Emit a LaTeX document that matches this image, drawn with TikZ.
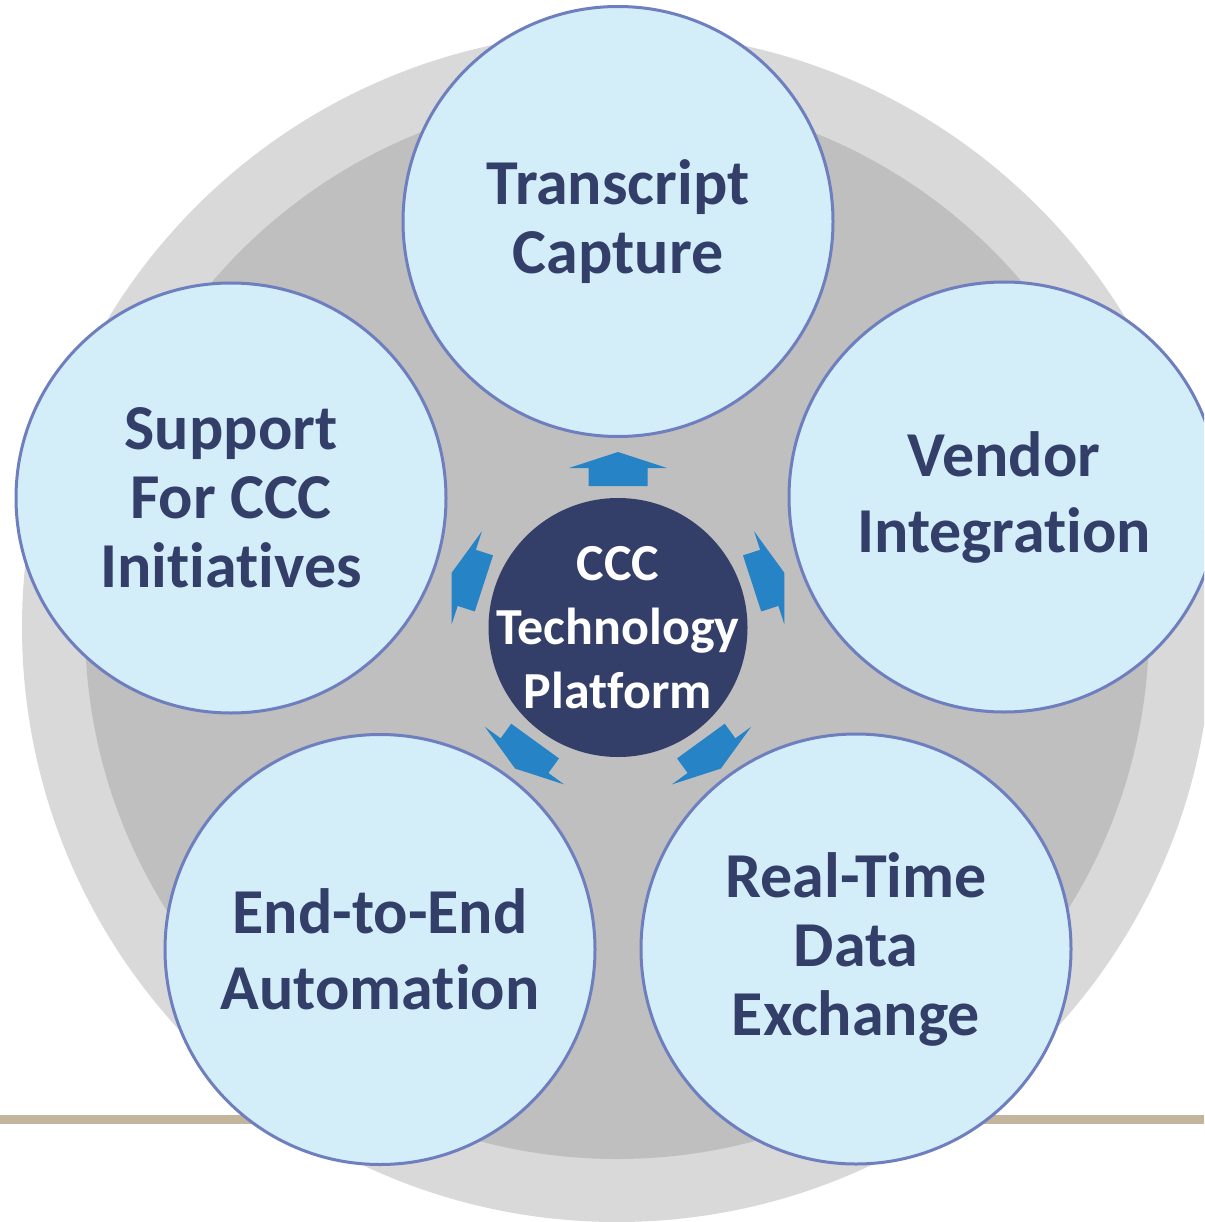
\documentclass[tikz,border=0pt]{standalone}
\usepackage{fontspec}
\setmainfont{Carlito}[Ligatures=NoCommon]
\definecolor{outergray}{HTML}{D9D9D9}
\definecolor{innergray}{HTML}{BFBFBF}
\definecolor{bubblefill}{HTML}{D3EEF9}
\definecolor{bubbleline}{HTML}{6E7EBE}
\definecolor{navy}{HTML}{333F68}
\definecolor{arrowblue}{HTML}{2683C6}
\definecolor{tan}{HTML}{C3B59B}
\tikzset{
  bubble/.style={circle, fill=bubblefill, draw=bubbleline, line width=3pt,
    minimum size=430pt, inner sep=0pt},
  bubbletext/.style={align=center, text=navy, inner sep=0pt,
    font=\bfseries\fontsize{64}{69}\selectfont},
  hub/.style={circle, fill=navy, minimum size=259pt, inner sep=0pt},
  hubtext/.style={align=center, text=white, inner sep=0pt,
    font=\bfseries\fontsize{52}{64}\selectfont},
  blockarrow/.style={fill=arrowblue, draw=none}
}
\begin{document}
\begin{tikzpicture}[x=1pt,y=-1pt]
\useasboundingbox (0,0) rectangle (1204,1222);
\clip (0,0) rectangle (1204,1222);
% base line
\draw[tan, line width=9pt] (0,1119) -- (1204,1119);
% background discs
\fill[outergray] (617,627) circle[radius=595pt];
\fill[innergray] (617,627) circle[radius=532pt];
% arrows
\foreach \a in {0,72,144,216,288}{
  \begin{scope}[shift={(618,627)}, rotate=\a]
    \fill[blockarrow] (0,-175) -- (49,-159) -- (29.5,-159) -- (29.5,-141)
      -- (-29.5,-141) -- (-29.5,-159) -- (-49,-159) -- cycle;
  \end{scope}
}
% hub
\node[hub] (hub) at (618,627.5) {};
\node[hubtext] (hubt) at (hub.center) {CCC\\Technology\\Platform};
% bubbles
\node[bubble] (tc) at (618,221.5) {};
\node[bubbletext] (tct) at (tc.center) {Transcript\\Capture};
\node[bubble] (sup) at (231,498) {};
\node[bubbletext] (supt) at (sup.center) {Support\\For CCC\\Initiatives};
\node[bubble] (ven) at (1004,497) {};
\node[bubbletext, font=\bfseries\fontsize{64}{76}\selectfont] (vent) at (ven.center) {Vendor\\Integration};
\node[bubble] (e2e) at (380,949.5) {};
\node[bubbletext, font=\bfseries\fontsize{64}{76}\selectfont] (e2et) at (e2e.center) {End-to-End\\Automation};
\node[bubble] (rt) at (856,949) {};
\node[bubbletext] (rtt) at (rt.center) {Real-Time\\Data\\Exchange};
\end{tikzpicture}
\end{document}
